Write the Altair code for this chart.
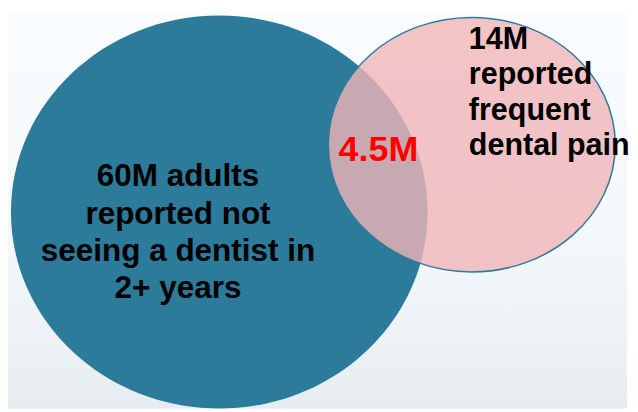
import altair as alt
import pandas as pd

# ---- data ----
groups = ["no_dentist", "dental_pain", "both"]
counts_millions = [60, 14, 4.5]
labels = [
    "60M adults|reported not|seeing a dentist in|2+ years",
    "14M|reported|frequent|dental pain",
    "4.5M",
]

# ---- layout (pixel coordinates of the page, separate from the data) ----
W, H = 630, 404
X0, Y0 = 8, 8
circle_layout = {
    "no_dentist": dict(cx=223, cy=212, a=212, b=200),
    "dental_pain": dict(cx=480, cy=143.5, a=146, b=129.5),
}
label_layout = {
    "no_dentist": dict(x=181, y=186, align="center", size=32, color="#000000", lh=38),
    "dental_pain": dict(x=477, y=46, align="left", size=31, color="#000000", lh=36),
    "both": dict(x=385, y=160, align="center", size=36.5, color="#ff0000", lh=36),
}


def ellipse_path(k):
    c = 0.5523
    return (
        f"M -1 0 C -1 {-c*k:.4f} {-c:.4f} {-k:.4f} 0 {-k:.4f} "
        f"C {c:.4f} {-k:.4f} 1 {-c*k:.4f} 1 0 "
        f"C 1 {c*k:.4f} {c:.4f} {k:.4f} 0 {k:.4f} "
        f"C {-c:.4f} {k:.4f} -1 {c*k:.4f} -1 0 Z"
    )


xs = alt.Scale(domain=[X0, X0 + W], nice=False, zero=False)
ys = alt.Scale(domain=[Y0, Y0 + H], nice=False, zero=False, reverse=True)

bg = alt.Chart(pd.DataFrame({"d": [0]})).mark_rect(
    color=alt.LinearGradient(
        gradient="linear",
        stops=[
            alt.GradientStop(color="#fafdff", offset=0),
            alt.GradientStop(color="#f3f7fa", offset=0.6),
            alt.GradientStop(color="#e6edf1", offset=1),
        ],
        x1=0, x2=0, y1=0, y2=1,
    )
).encode(x=alt.value(0), x2=alt.value("width"), y=alt.value(0), y2=alt.value("height"))


def circle_layer(g, fill, fill_opacity, stroke=None):
    L = circle_layout[g]
    df = pd.DataFrame({
        "group": [g],
        "count": [counts_millions[groups.index(g)]],
        "cx": [L["cx"]],
        "cy": [L["cy"]],
        "sz": [(2 * L["a"]) ** 2],
    })
    kw = dict(
        shape=ellipse_path(L["b"] / L["a"]),
        filled=True,
        fill=fill,
        fillOpacity=fill_opacity,
        opacity=1,
    )
    if stroke:
        kw.update(stroke=stroke, strokeWidth=1.5, strokeOpacity=1)
    else:
        kw.update(strokeWidth=0)
    return alt.Chart(df).mark_point(**kw).encode(
        x=alt.X("cx:Q", scale=xs, axis=None),
        y=alt.Y("cy:Q", scale=ys, axis=None),
        size=alt.Size("sz:Q", scale=None, legend=None),
    )


blue = circle_layer("no_dentist", "#2c7b9b", 1.0)
pink = circle_layer("dental_pain", "#f0b5b8", 0.8, stroke="#2c7b9b")


def text_layer(g):
    L = label_layout[g]
    df = pd.DataFrame({"label": [labels[groups.index(g)]], "x": [L["x"]], "y": [L["y"]]})
    return alt.Chart(df).mark_text(
        lineBreak="|",
        align=L["align"],
        baseline="alphabetic",
        font="Liberation Sans",
        fontWeight="bold",
        fontSize=L["size"],
        lineHeight=L["lh"],
        color=L["color"],
    ).encode(
        x=alt.X("x:Q", scale=xs, axis=None),
        y=alt.Y("y:Q", scale=ys, axis=None),
        text="label:N",
    )


chart = alt.layer(
    bg, blue, pink, text_layer("no_dentist"), text_layer("dental_pain"), text_layer("both")
).properties(width=W, height=H, padding=0).configure_view(stroke=None)

chart.save("out.html", embed_options={"renderer": "svg", "actions": False})
